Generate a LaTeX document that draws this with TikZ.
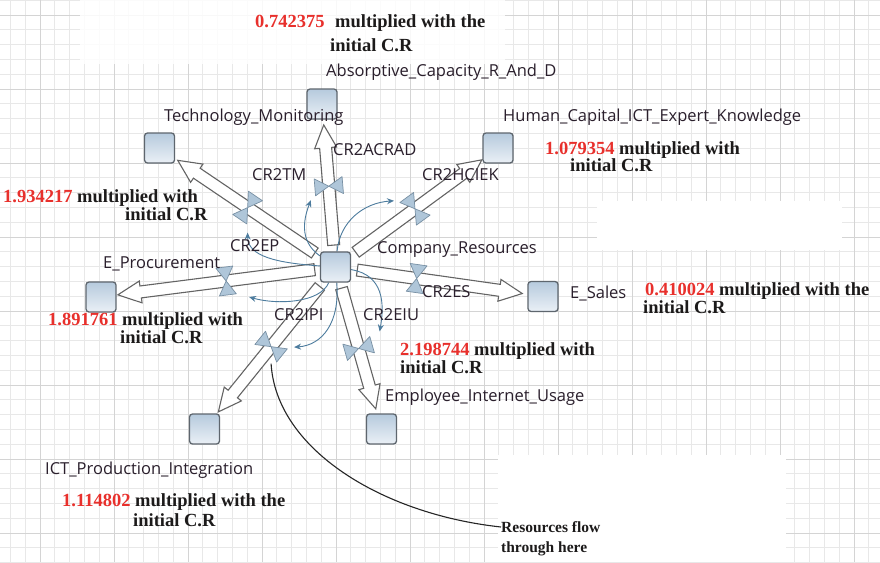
\documentclass[tikz,border=0pt]{standalone}
\usepackage{fontspec}
\setmainfont{Liberation Serif}
\newfontfamily\labelfont{Open Sans}
\usetikzlibrary{calc,arrows.meta}

\definecolor{gridminor}{HTML}{E8E8E8}
\definecolor{gridmajor}{HTML}{D4D4D4}
\definecolor{pipegray}{HTML}{646464}
\definecolor{stocktop}{HTML}{B6CADD}
\definecolor{stockbot}{HTML}{EAF0F6}
\definecolor{stockedge}{HTML}{5E666E}
\definecolor{valvefill}{HTML}{AFC6D9}
\definecolor{valveedge}{HTML}{7890A4}
\definecolor{linkblue}{HTML}{4D7C9E}
\definecolor{labeltext}{HTML}{2A1F2C}
\definecolor{numred}{HTML}{E8302C}
\definecolor{notetext}{HTML}{1C1A1A}

\pgfdeclarelayer{grid}
\pgfdeclarelayer{flows}
\pgfsetlayers{grid,flows,main}

\tikzset{
  stock/.style={draw=stockedge, line width=1.3pt, rounded corners=3pt,
    minimum width=30pt, minimum height=30pt, inner sep=0pt,
    top color=stocktop, bottom color=stockbot},
  varlabel/.style={font=\labelfont\fontsize{16.5}{18}\selectfont, text=labeltext,
    anchor=west, inner sep=0pt, text height=0.72em, text depth=0.02em},
  note/.style={font=\bfseries\fontsize{18.5}{20}\selectfont, text=notetext,
    anchor=west, inner sep=0pt, text height=0.68em, text depth=0em},
  smallnote/.style={font=\bfseries\fontsize{15.5}{20}\selectfont, text=notetext,
    anchor=north west, inner sep=0pt, align=left},
  pipe/.style={draw=pipegray, fill=white, line width=1.1pt, line join=miter},
  valveshape/.style={draw=valveedge, fill=valvefill, line width=0.7pt, line join=round},
  infolink/.style={draw=linkblue, line width=0.9pt, -{Stealth[length=7pt,width=6pt]}},
  callout/.style={draw=black!85, line width=1.1pt},
}

% pipe with hollow head from stock #1 to stock #2, gaps #3/#4, valve at fraction #5, named #6
\newcommand\sdflow[6]{%
  \coordinate (#6s) at ($(#1)!#3!(#2)$);
  \coordinate (#6t) at ($(#2)!#4!(#1)$);
  \coordinate (#6h) at ($(#6t)!23pt!(#6s)$);
  \filldraw[pipe] ($(#6s)!6pt!90:(#6t)$) -- ($(#6h)!6pt!-90:(#6s)$)
    -- ($(#6h)!11pt!-90:(#6s)$) -- (#6t) -- ($(#6h)!11pt!90:(#6s)$)
    -- ($(#6h)!6pt!90:(#6s)$) -- ($(#6s)!6pt!-90:(#6t)$) -- cycle;
  \coordinate (#6) at ($(#6s)!#5!(#6t)$);
  \coordinate (#6a) at ($(#6)!8.5pt!(#6t)$);
  \coordinate (#6b) at ($(#6)!8.5pt!(#6s)$);
  \filldraw[valveshape] (#6) -- ($(#6a)!14pt!90:(#6t)$) -- ($(#6b)!14pt!-90:(#6s)$) -- cycle;
  \filldraw[valveshape] (#6) -- ($(#6a)!14pt!-90:(#6t)$) -- ($(#6b)!14pt!90:(#6s)$) -- cycle;
}

\begin{document}
\begin{tikzpicture}[x=1pt, y=-1pt]
\useasboundingbox (0,0) rectangle (880,562);

% background grid with a few blank patches
\begin{pgfonlayer}{grid}
  \fill[white] (0,0) rectangle (880,562);
  \foreach \i in {0,...,59} \draw[gridminor, line width=0.8pt] ({10.4+14.8*\i},0) -- ++(0,562);
  \foreach \i in {0,...,38} \draw[gridminor, line width=0.8pt] (0,{0.2+14.8*\i}) -- ++(880,0);
  \foreach \i in {0,...,11} \draw[gridmajor, line width=1pt] ({40+74*\i},0) -- ++(0,562);
  \foreach \i in {0,...,7} \draw[gridmajor, line width=1pt] (0,{15+74*\i}) -- ++(880,0);
  \fill[white, opacity=0.85] (80,0) rectangle (505,64);
  \fill[white] (597,201) rectangle (842,250);
  \fill[white] (498,455) rectangle (786,562);
\end{pgfonlayer}

% stocks
\node[stock] (cr) at (335.5,267) {};
\node[stock] (acrad) at (322,104) {};
\node[stock] (tm) at (159.5,148) {};
\node[stock] (hc) at (498,148) {};
\node[stock] (es) at (543,296.5) {};
\node[stock] (ep) at (101,297) {};
\node[stock] (ipi) at (204.5,429) {};
\node[stock] (eiu) at (381.5,429) {};

\begin{pgfonlayer}{flows}
  \sdflow{cr}{acrad}{22pt}{21pt}{0.49}{vAC}
  \sdflow{cr}{tm}{25pt}{22pt}{0.49}{vTM}
  \sdflow{cr}{hc}{25pt}{20pt}{0.47}{vHC}
  \sdflow{cr}{es}{22pt}{21pt}{0.36}{vES}
  \sdflow{cr}{ep}{21pt}{17pt}{0.45}{vEP}
  \sdflow{cr}{ipi}{25pt}{22pt}{0.48}{vIP}
  \sdflow{cr}{eiu}{22pt}{21pt}{0.5}{vEU}

  % information links from the central stock to the valves
  \coordinate (lAC) at ($(vAC)+(-18,14)$);
  \coordinate (lTM) at ($(vTM)+(0,25)$);
  \coordinate (lHC) at ($(vHC)+(-21,-8)$);
  \coordinate (lEP) at ($(vEP)+(23,16)$);
  \coordinate (lIP) at ($(vIP)+(23,0.5)$);
  \coordinate (lEU) at ($(vEU)+(21,-17)$);
  \draw[infolink] (cr) .. controls +(-38,-27) and +(-6,16) .. (lAC);
  \draw[infolink] (cr) .. controls +(-58,-4) and +(0,24) .. (lTM);
  \draw[infolink] (cr) .. controls +(4.5,-46) and +(-30,2) .. (lHC);
  \draw[infolink] (cr) .. controls +(-15.5,36) and +(28,8) .. (lEP);
  \draw[infolink] (cr) .. controls +(4.5,56) and +(28,-2) .. (lIP);
  \draw[infolink] (cr) .. controls +(48,8) and +(5,-28) .. (lEU);
\end{pgfonlayer}

% stock names
\node[varlabel] (tAC) at (326,73) {Absorptive\_Capacity\_R\_And\_D};
\node[varlabel] (tTM) at (164,118) {Technology\_Monitoring};
\node[varlabel] (tHC) at (503,118) {Human\_Capital\_ICT\_Expert\_Knowledge};
\node[varlabel] (tCR) at (377,250) {Company\_Resources};
\node[varlabel] (tEP) at (103,265) {E\_Procurement};
\node[varlabel] (tES) at (570,295) {E\_Sales};
\node[varlabel] (tEU) at (385,398) {Employee\_Internet\_Usage};
\node[varlabel] (tIP) at (45,471) {ICT\_Production\_Integration};

% flow names
\node[varlabel] (fAC) at (333,152) {CR2ACRAD};
\node[varlabel] (fTM) at (252,177) {CR2TM};
\node[varlabel] (fHC) at (422,177) {CR2HCIEK};
\node[varlabel] (fEP) at (230,248) {CR2EP};
\node[varlabel] (fES) at (422,294) {CR2ES};
\node[varlabel] (fIP) at (274,317) {CR2IPI};
\node[varlabel] (fEU) at (363,317) {CR2EIU};

% multipliers
\node[note] (mAC1) at (255,24) {\textcolor{numred}{0.742375}\hspace{6pt} multiplied with the};
\node[note] (mAC2) at (330,48) {initial C.R};
\node[note] (mHC1) at (545,151) {\textcolor{numred}{1.079354} multiplied with};
\node[note] (mHC2) at (570,168) {initial C.R};
\node[note] (mTM1) at (3,199) {\textcolor{numred}{1.934217} multiplied with};
\node[note] (mTM2) at (125,217) {initial C.R};
\node[note] (mES1) at (645,292) {\textcolor{numred}{0.410024} multiplied with the};
\node[note] (mES2) at (643,310) {initial C.R};
\node[note] (mEP1) at (48,322) {\textcolor{numred}{1.891761} multiplied with};
\node[note] (mEP2) at (120,340) {initial C.R};
\node[note] (mEU1) at (400,352) {\textcolor{numred}{2.198744} multiplied with};
\node[note] (mEU2) at (400,370) {initial C.R};
\node[note] (mIP1) at (62,503) {\textcolor{numred}{1.114802} multiplied with the};
\node[note] (mIP2) at (133,523) {initial C.R};

% callout
\node[smallnote] (rf) at (501,521) {Resources flow\\through here};
\coordinate (rfStart) at ($(vIP)+(0,17)$);
\draw[callout] (rfStart) .. controls +(5,85) and +(-120,-13) .. ($(rf.north west)+(0,6)$);
\end{tikzpicture}
\end{document}
